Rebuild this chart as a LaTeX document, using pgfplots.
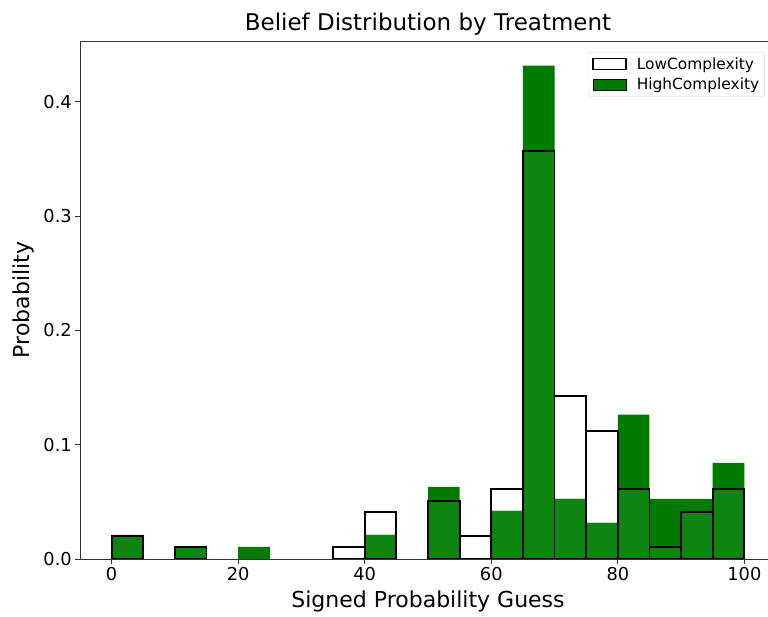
\documentclass[border=0pt]{standalone}
\usepackage{fontspec}
\setmainfont{DejaVu Sans}
\usepackage{pgfplots}
\pgfplotsset{compat=1.18}
\usetikzlibrary{calc}
\definecolor{hgreen}{RGB}{0,123,0}
\definecolor{lgreen}{RGB}{14,133,16}
\begin{document}
\begin{tikzpicture}
\begin{axis}[name=ax, scale only axis, width=696pt, height=518pt,
  xmin=-5, xmax=105, ymin=0, ymax=0.4532,
  axis line style={line width=0.9pt, black!80},
  tick align=outside, major tick length=4.7pt, tick pos=left,
  tick style={line width=0.9pt, black!80},
  xtick={0,20,40,60,80,100}, ytick={0,0.1,0.2,0.3,0.4},
  yticklabel style={/pgf/number format/fixed, /pgf/number format/fixed zerofill, /pgf/number format/precision=1},
  /pgf/number format/assume math mode=true,
  ticklabel style={font=\fontsize{17.8}{20}\selectfont},
  title={Belief Distribution by Treatment},
  title style={font=\fontsize{23}{26}\selectfont, yshift=-4pt},
  xlabel={Signed Probability Guess}, ylabel={Probability},
  label style={font=\fontsize{22}{25}\selectfont},
  xlabel style={yshift=-3pt}, ylabel style={yshift=3pt},
  bar width=5, bar shift=0pt,
  legend style={at={(0.984,0.979)}, anchor=north east, draw=black!15, rounded corners=2pt,
    font=\fontsize{15.4}{18}\selectfont, row sep=3pt, inner sep=3.5pt,
    /tikz/every odd column/.append style={column sep=8pt}},
  legend image code/.code={\draw[#1, sharp corners] (0pt,-5.5pt) rectangle (33pt,5.5pt);},
  legend cell align=left,
]
% HighComplexity
\addplot[ybar, fill=hgreen, draw=none, forget plot] coordinates {
 (2.5,0.0211) (12.5,0.0105) (22.5,0.0105) (42.5,0.0211) (52.5,0.0632)
 (62.5,0.0421) (67.5,0.4316) (72.5,0.0526) (77.5,0.0316) (82.5,0.1263)
 (87.5,0.0526) (92.5,0.0526) (97.5,0.0842)};
% overlap of both (green seen through the LowComplexity bar)
\addplot[ybar, fill=lgreen, draw=none, forget plot] coordinates {
 (2.5,0.0204) (12.5,0.0102) (42.5,0.0211) (52.5,0.0510)
 (62.5,0.0421) (67.5,0.3571) (72.5,0.0526) (77.5,0.0316) (82.5,0.0612)
 (87.5,0.0102) (92.5,0.0408) (97.5,0.0612)};
% LowComplexity
\addplot[ybar, fill=none, draw=black, line width=1.8pt, forget plot] coordinates {
 (2.5,0.0204) (12.5,0.0102) (37.5,0.0102) (42.5,0.0408) (52.5,0.0510)
 (57.5,0.0204) (62.5,0.0612) (67.5,0.3571) (72.5,0.1429) (77.5,0.1122)
 (82.5,0.0612) (87.5,0.0102) (92.5,0.0408) (97.5,0.0612)};
\addlegendimage{fill=white, draw=black, line width=1.3pt}
\addlegendentry{LowComplexity}
\addlegendimage{fill=hgreen, draw=none}
\addlegendentry{HighComplexity}
\end{axis}
\pgfresetboundingbox
\path[use as bounding box] ($(ax.south west)+(-80pt,-58pt)$) rectangle ($(ax.north west)+(688pt,41pt)$);
\end{tikzpicture}
\end{document}
